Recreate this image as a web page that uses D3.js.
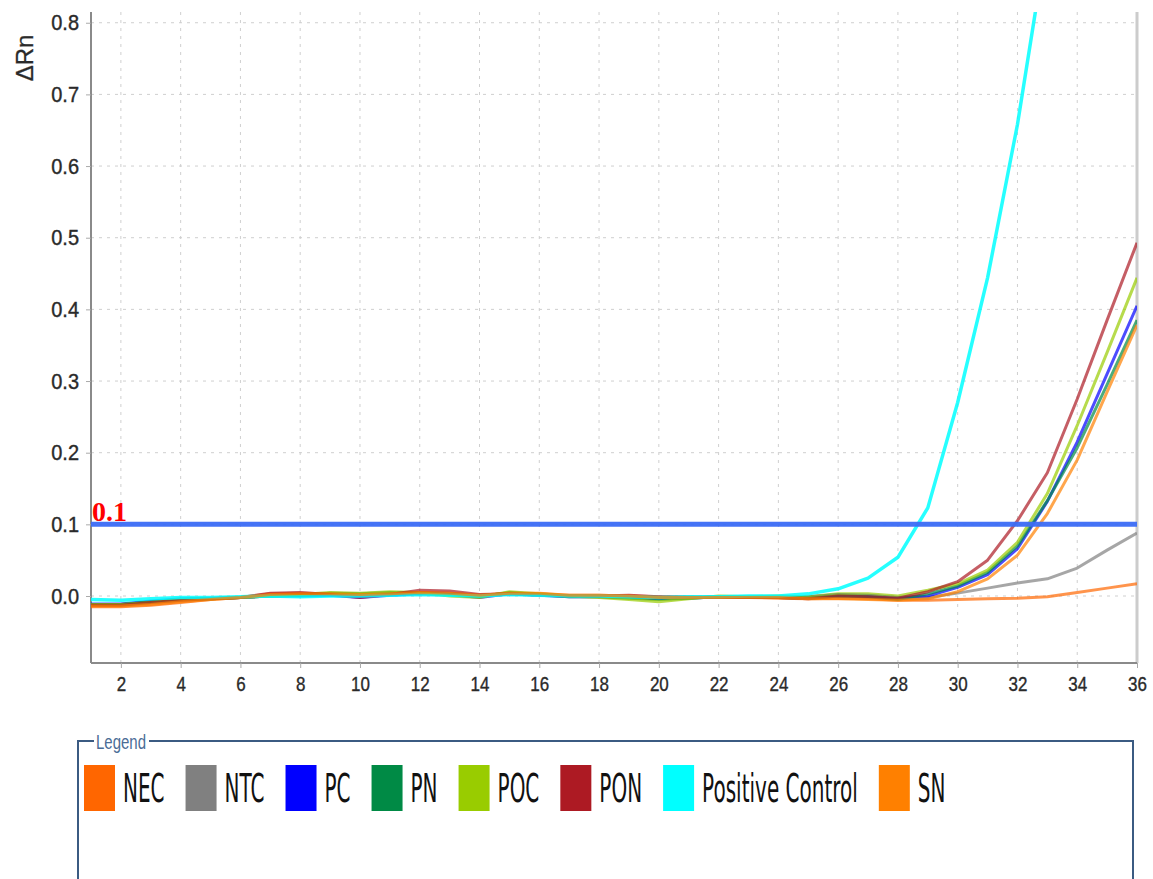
<!DOCTYPE html>
<html>
<head>
<meta charset="utf-8">
<script src="https://cdn.jsdelivr.net/npm/d3@7"></script>
<style>
  html, body { margin: 0; padding: 0; background: #ffffff; }
  svg { display: block; }
</style>
</head>
<body>
<svg id="chart" width="1153" height="879"></svg>
<script>
// ---------------- DATA ----------------
const cycles = d3.range(1, 37);
const seriesNames = ["NEC", "NTC", "PC", "PN", "POC", "PON", "Positive Control", "SN"];
const seriesColors = ["#ff6600", "#808080", "#0000ff", "#008a45", "#99cc00", "#ad1a23", "#00ffff", "#ff8000"];

const necValues = [-0.015,-0.015,-0.013,-0.009,-0.005,-0.002,0.003,0.004,0.003,0.001,0.003,0.005,0.004,0.001,0.004,0.003,0.001,0.001,0.0,-0.001,-0.002,-0.002,-0.002,-0.003,-0.004,-0.003,-0.004,-0.006,-0.006,-0.005,-0.004,-0.003,-0.001,0.005,0.011,0.017];
const ntcValues = [-0.012,-0.012,-0.009,-0.006,-0.004,-0.002,0.0,0.001,0.002,0.001,0.002,0.004,0.003,0.001,0.003,0.002,0.0,0.0,-0.001,-0.002,-0.002,-0.001,-0.001,-0.001,-0.002,-0.001,-0.001,-0.003,-0.002,0.004,0.011,0.018,0.024,0.039,0.064,0.088];
const pcValues  = [-0.011,-0.011,-0.007,-0.004,-0.003,-0.002,0.0,0.0,0.001,-0.002,0.001,0.003,0.002,-0.002,0.003,0.001,-0.001,-0.001,-0.002,-0.004,-0.003,-0.001,-0.002,-0.001,-0.001,0.002,0.001,-0.002,0.0,0.012,0.03,0.066,0.132,0.215,0.31,0.405];
const pnValues  = [-0.012,-0.012,-0.008,-0.005,-0.004,-0.002,0.0,0.001,0.004,0.003,0.005,0.004,0.002,-0.001,0.005,0.002,-0.001,-0.001,-0.003,-0.005,-0.003,-0.001,-0.002,-0.002,-0.003,0.0,-0.001,-0.005,0.003,0.014,0.033,0.07,0.133,0.207,0.295,0.385];
const pocValues = [-0.012,-0.012,-0.009,-0.005,-0.004,-0.002,0.0,0.002,0.005,0.004,0.006,0.005,0.0,-0.002,0.006,0.003,0.0,-0.002,-0.005,-0.008,-0.004,0.0,-0.001,0.0,-0.001,0.003,0.003,0.0,0.008,0.017,0.036,0.075,0.143,0.238,0.34,0.444];
const ponValues = [-0.013,-0.013,-0.009,-0.006,-0.004,-0.002,0.004,0.005,0.002,-0.002,0.002,0.008,0.007,0.002,0.003,0.001,0.0,0.0,0.001,-0.001,-0.001,-0.002,-0.002,-0.002,-0.004,0.0,-0.001,-0.003,0.006,0.02,0.05,0.105,0.172,0.275,0.385,0.493];
const posCtrlValues = [-0.005,-0.006,-0.004,-0.002,-0.002,-0.001,0.0,-0.001,0.0,0.0,0.001,0.002,0.001,0.0,0.002,0.001,0.0,0.0,-0.001,-0.002,-0.001,-0.001,0.0,0.0,0.003,0.01,0.025,0.054,0.123,0.27,0.444,0.658,0.92,1.15,1.35,1.5];
const snValues  = [-0.014,-0.014,-0.012,-0.008,-0.005,-0.002,0.002,0.003,0.003,0.002,0.003,0.005,0.004,0.001,0.004,0.004,0.001,0.001,0.0,-0.002,-0.002,-0.002,-0.002,-0.002,-0.004,-0.004,-0.005,-0.006,-0.004,0.006,0.024,0.057,0.115,0.19,0.285,0.378];

const seriesValues = [necValues, ntcValues, pcValues, pnValues, pocValues, ponValues, posCtrlValues, snValues];

const xTickValues = [2,4,6,8,10,12,14,16,18,20,22,24,26,28,30,32,34,36];
const yTickValues = [0.0,0.1,0.2,0.3,0.4,0.5,0.6,0.7,0.8];
const thresholdValue = 0.1;
const thresholdLabel = "0.1";
const yAxisTitle = "ΔRn";
const legendTitle = "Legend";

// ---------------- LAYOUT ----------------
const svg = d3.select("#chart");
const plotLeft = 91, plotRight = 1137, plotTop = 12, plotBottom = 663;

const x = d3.scaleLinear().domain([1, 36]).range([plotLeft, plotRight]);
const y = d3.scaleLinear().domain([-0.0935, 0.815]).range([plotBottom, plotTop]);

svg.append("rect").attr("width", 1153).attr("height", 879).attr("fill", "#ffffff");

svg.append("defs").append("clipPath").attr("id", "plotclip")
  .append("rect").attr("x", plotLeft).attr("y", plotTop)
  .attr("width", plotRight - plotLeft).attr("height", plotBottom - plotTop);

// Gridlines
const grid = svg.append("g");
grid.selectAll("line.vg").data(xTickValues.filter(v => v < 36)).enter().append("line")
  .attr("x1", d => x(d)).attr("x2", d => x(d))
  .attr("y1", plotTop).attr("y2", plotBottom)
  .attr("stroke", "#cfcfcf").attr("stroke-width", 1).attr("stroke-dasharray", "3,5");
grid.selectAll("line.hg").data(yTickValues).enter().append("line")
  .attr("x1", plotLeft).attr("x2", plotRight)
  .attr("y1", d => y(d)).attr("y2", d => y(d))
  .attr("stroke", "#cfcfcf").attr("stroke-width", 1).attr("stroke-dasharray", "3,5");

// Right border
svg.append("line").attr("x1", plotRight).attr("x2", plotRight)
  .attr("y1", plotTop).attr("y2", plotBottom)
  .attr("stroke", "#cccccc").attr("stroke-width", 3);

// Axes
const yAxis = d3.axisLeft(y).tickValues(yTickValues).tickFormat(d3.format(".1f")).tickSize(5).tickPadding(7);
const gy = svg.append("g").attr("transform", `translate(${plotLeft},0)`).call(yAxis);
gy.select(".domain").attr("stroke", "#8a8a8a").attr("stroke-width", 2)
  .attr("d", `M0,${plotTop}V${plotBottom}`);
gy.selectAll(".tick line").attr("stroke", "#aaaaaa");
gy.selectAll(".tick text").attr("font-family", "'Liberation Sans', Arial, sans-serif")
  .attr("font-size", 20).attr("fill", "#2a2a2a")
  .attr("stroke", "#2a2a2a").attr("stroke-width", 0.35)
  .attr("transform", "scale(1,1.12)");

const xAxis = d3.axisBottom(x).tickValues(xTickValues).tickSize(5).tickPadding(7);
const gx = svg.append("g").attr("transform", `translate(0,${plotBottom})`).call(xAxis);
gx.select(".domain").attr("stroke", "#8a8a8a").attr("stroke-width", 2)
  .attr("d", `M${plotLeft},0H${plotRight}`);
gx.selectAll(".tick line").attr("stroke", "#aaaaaa");
gx.selectAll(".tick text").attr("font-family", "'Liberation Sans', Arial, sans-serif")
  .attr("font-size", 17).attr("fill", "#2a2a2a")
  .attr("stroke", "#2a2a2a").attr("stroke-width", 0.3)
  .attr("transform", "scale(1,1.18)");

// Y axis title
svg.append("text").attr("transform", "translate(33,58) rotate(-90)")
  .attr("text-anchor", "middle")
  .attr("font-family", "'Liberation Sans', Arial, sans-serif").attr("font-size", 24)
  .attr("fill", "#2a2a2a").attr("stroke", "#2a2a2a").attr("stroke-width", 0.3)
  .text(yAxisTitle);

// Lines
const line = d3.line().x((d, i) => x(cycles[i])).y(d => y(d));
const lines = svg.append("g").attr("clip-path", "url(#plotclip)");
seriesValues.forEach((vals, i) => {
  lines.append("path").datum(vals)
    .attr("d", line).attr("fill", "none")
    .attr("stroke", seriesColors[i]).attr("stroke-width", i === 6 ? 3.5 : 3)
    .attr("stroke-opacity", i === 6 ? 0.85 : 0.7)
    .attr("stroke-linejoin", "round");
});

// Threshold
svg.append("line").attr("x1", plotLeft).attr("x2", plotRight)
  .attr("y1", y(thresholdValue)).attr("y2", y(thresholdValue))
  .attr("stroke", "#3b6cf6").attr("stroke-width", 5).attr("stroke-opacity", 0.95);
svg.append("text").attr("x", plotLeft + 1).attr("y", y(thresholdValue) - 3)
  .attr("font-family", "'Liberation Serif', 'Times New Roman', serif")
  .attr("font-weight", "bold").attr("font-size", 28).attr("fill", "#ff0000")
  .text(thresholdLabel);

// Legend box
const lgLeft = 78, lgRight = 1133, lgTop = 741;
const lgColor = "#3b5b82";
const lg = svg.append("g");
lg.append("path")
  .attr("d", `M${lgLeft},890V${lgTop}H94 M149,${lgTop}H${lgRight}V890`)
  .attr("fill", "none").attr("stroke", lgColor).attr("stroke-width", 2);
lg.append("text").attr("transform", `translate(96,749) scale(1,1.3)`)
  .attr("font-family", "'Liberation Sans', Arial, sans-serif").attr("font-size", 15)
  .attr("fill", "#4a6c96").text(legendTitle);

let cx = 84;
seriesNames.forEach((name, i) => {
  lg.append("rect").attr("x", cx).attr("y", 765).attr("width", 31).attr("height", 46)
    .attr("fill", seriesColors[i]);
  const t = lg.append("text")
    .attr("transform", `translate(${cx + 39},802) scale(1,1.95)`)
    .attr("font-family", "'DejaVu Sans', sans-serif").attr("font-size", 20)
    .attr("fill", "#111111").text(name);
  const w = t.node().getComputedTextLength();
  cx = cx + 39 + w + 21;
});
</script>
</body>
</html>
